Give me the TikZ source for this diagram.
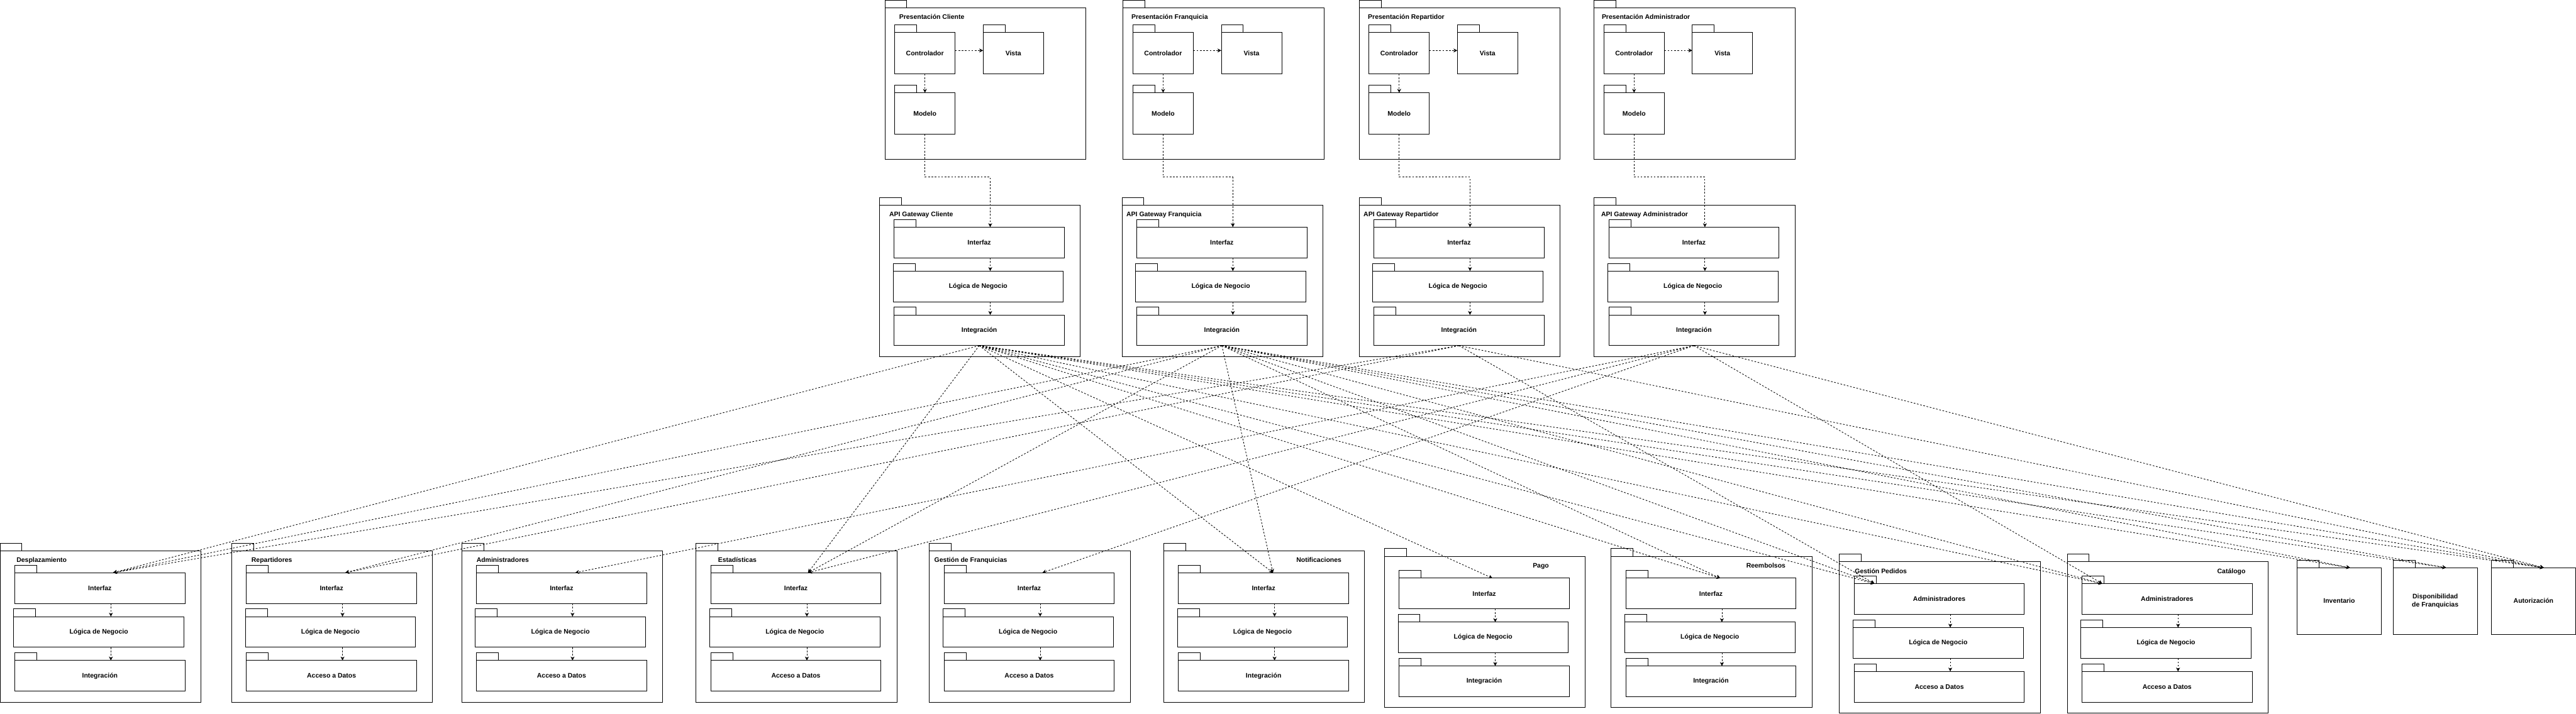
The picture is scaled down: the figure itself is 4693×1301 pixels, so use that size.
\documentclass[tikz,border=0pt]{standalone}
\usepackage{fontspec}
\setmainfont{Liberation Sans}
\usetikzlibrary{arrows.meta,calc}
\newcommand\pk[5]{%
  \node[box,anchor=north west,minimum width=#3pt,minimum height=#4pt] (#1) at #2 {#5};
  \draw[pkline] (#1.north west) rectangle ++(40,-14);
}
\newcommand\trio[6]{%
  \pk{#1}{(#2,#3)}{366}{276}{}
  \pk{#1-i}{(#2+27,#3+40)}{310}{56}{#4}
  \pk{#1-l}{(#2+25,#3+120)}{310}{56}{#5}
  \pk{#1-n}{(#2+27,#3+200)}{310}{56}{#6}
  \draw[dep] ($(#1-i.south)+(20,0)$) -- ($(#1-i.south |- #1-l.north)+(20,0)$);
  \draw[dep] ($(#1-l.south)+(22,0)$) -- ($(#1-l.south |- #1-n.north)+(22,0)$);
}
\newcommand\pres[3]{%
  \pk{#1}{(#2,14)}{366}{276}{}
  \pk{#1-c}{(#2+18,59)}{110}{76}{Controlador}
  \pk{#1-v}{(#2+179,59)}{110}{76}{Vista}
  \pk{#1-m}{(#2+18,169)}{110}{76}{Modelo}
  \draw[dep] ([yshift=5pt]#1-c.east) -- ([yshift=5pt]#1-v.west);
  \draw[dep] (#1-c.south) -- (#1-m.north);
  \draw[dep] (#1-m.south) -- ++(0,78) -| ($(#3-i.north)+(20,0)$);
}
\begin{document}
\begin{tikzpicture}[x=1pt,y=-1pt,
  box/.style={draw=black,line width=1pt,fill=white,inner sep=0pt,outer sep=0pt,
    font=\fontsize{12}{15}\selectfont\bfseries,align=center},
  pkline/.style={draw=black,line width=1pt,fill=white},
  ttl/.style={inner sep=0pt,font=\fontsize{12}{14}\selectfont\bfseries},
  dep/.style={draw=black,line width=1pt,dash pattern=on 3pt off 3pt,
    -{Stealth[length=7pt,width=7pt,inset=2pt]}},
]
\useasboundingbox (0,0) rectangle (4693,1301);

% API gateways
\trio{gC}{1602}{374}{Interfaz}{Lógica de Negocio}{Integración}
\trio{gF}{2044}{374}{Interfaz}{Lógica de Negocio}{Integración}
\trio{gR}{2476}{374}{Interfaz}{Lógica de Negocio}{Integración}
\trio{gA}{2904}{374}{Interfaz}{Lógica de Negocio}{Integración}
\node[ttl,anchor=base west] (gC-t) at (1620,395) {API Gateway Cliente};
\node[ttl,anchor=base west] (gF-t) at (2052,395) {API Gateway Franquicia};
\node[ttl,anchor=base west] (gR-t) at (2484,395) {API Gateway Repartidor};
\node[ttl,anchor=base west] (gA-t) at (2917,395) {API Gateway Administrador};

% Presentation
\pres{pC}{1612}{gC}
\pres{pF}{2046}{gF}
\pres{pR}{2476}{gR}
\pres{pA}{2904}{gA}
\node[ttl,anchor=base west] (pC-t) at (1638,35) {Presentación Cliente};
\node[ttl,anchor=base west] (pF-t) at (2061,35) {Presentación Franquicia};
\node[ttl,anchor=base west] (pR-t) at (2492,35) {Presentación Repartidor};
\node[ttl,anchor=base west] (pA-t) at (2918,35) {Presentación Administrador};

% Lower services
\trio{desp}{0}{1004}{Interfaz}{Lógica de Negocio}{Integración}
\trio{rep}{422}{1004}{Interfaz}{Lógica de Negocio}{Acceso a Datos}
\trio{adm}{841}{1004}{Interfaz}{Lógica de Negocio}{Acceso a Datos}
\trio{est}{1268}{1004}{Interfaz}{Lógica de Negocio}{Acceso a Datos}
\trio{gfr}{1693}{1004}{Interfaz}{Lógica de Negocio}{Acceso a Datos}
\trio{noti}{2120}{1004}{Interfaz}{Lógica de Negocio}{Integración}
\trio{pago}{2522}{1014}{Interfaz}{Lógica de Negocio}{Integración}
\trio{reem}{2935}{1014}{Interfaz}{Lógica de Negocio}{Integración}
\trio{gped}{3351}{1024}{Administradores}{Lógica de Negocio}{Acceso a Datos}
\trio{cat}{3766}{1024}{Administradores}{Lógica de Negocio}{Acceso a Datos}
\node[ttl,anchor=base west] (desp-t) at (30,1025) {Desplazamiento};
\node[ttl,anchor=base west] (rep-t) at (458,1025) {Repartidores};
\node[ttl,anchor=base west] (adm-t) at (868,1025) {Administradores};
\node[ttl,anchor=base west] (est-t) at (1308,1025) {Estadísticas};
\node[ttl,anchor=base west] (gfr-t) at (1702,1025) {Gestión de Franquicias};
\node[ttl,anchor=base east] (noti-t) at (2444,1025) {Notificaciones};
\node[ttl,anchor=base east] (pago-t) at (2822,1035) {Pago};
\node[ttl,anchor=base east] (reem-t) at (3253,1035) {Reembolsos};
\node[ttl,anchor=base west] (gped-t) at (3379,1045) {Gestión Pedidos};
\node[ttl,anchor=base east] (cat-t) at (4091,1045) {Catálogo};

\pk{inv}{(4185,1035)}{153}{121}{Inventario}
\pk{disp}{(4360,1035)}{153}{121}{Disponibilidad\\de Franquicias}
\pk{aut}{(4539,1035)}{153}{121}{Autorización}

% Connectors from the gateways' integration layers
\foreach \s in {gC,gF,gR} \draw[dep] (\s-n.south) -- ($(desp-i.north)+(24,0)$);
\foreach \s in {gF,gR} \draw[dep] (\s-n.south) -- ($(rep-i.north)+(25,0)$);
\foreach \s in {gA} \draw[dep] (\s-n.south) -- ($(adm-i.north)+(25,0)$);
\foreach \s in {gC,gF,gA} \draw[dep] (\s-n.south) -- ($(est-i.north)+(22,0)$);
\foreach \s in {gA} \draw[dep] (\s-n.south) -- ($(gfr-i.north)+(24,0)$);
\foreach \s in {gC,gF} \draw[dep] (\s-n.south) -- ($(noti-i.north)+(17,0)$);
\foreach \s in {gC} \draw[dep] (\s-n.south) -- ($(pago-i.north)+(15,0)$);
\foreach \s in {gC,gF} \draw[dep] (\s-n.south) -- ($(reem-i.north)+(17,0)$);
\foreach \s in {gC,gF,gR} \draw[dep] (\s-n.south) -- ($(gped-i.north west)+(37,0)$);
\foreach \s in {gC,gF,gA} \draw[dep] (\s-n.south) -- ($(cat-i.north west)+(37,0)$);
\foreach \s in {gC,gF} \draw[dep] (\s-n.south) -- ($(inv.north)+(20,0)$);
\foreach \s in {gC,gF} \draw[dep] (\s-n.south) -- ($(disp.north)+(20,0)$);
\foreach \s in {gC,gF,gR,gA} \draw[dep] (\s-n.south) -- ($(aut.north)+(19,0)$);
\end{tikzpicture}
\end{document}
